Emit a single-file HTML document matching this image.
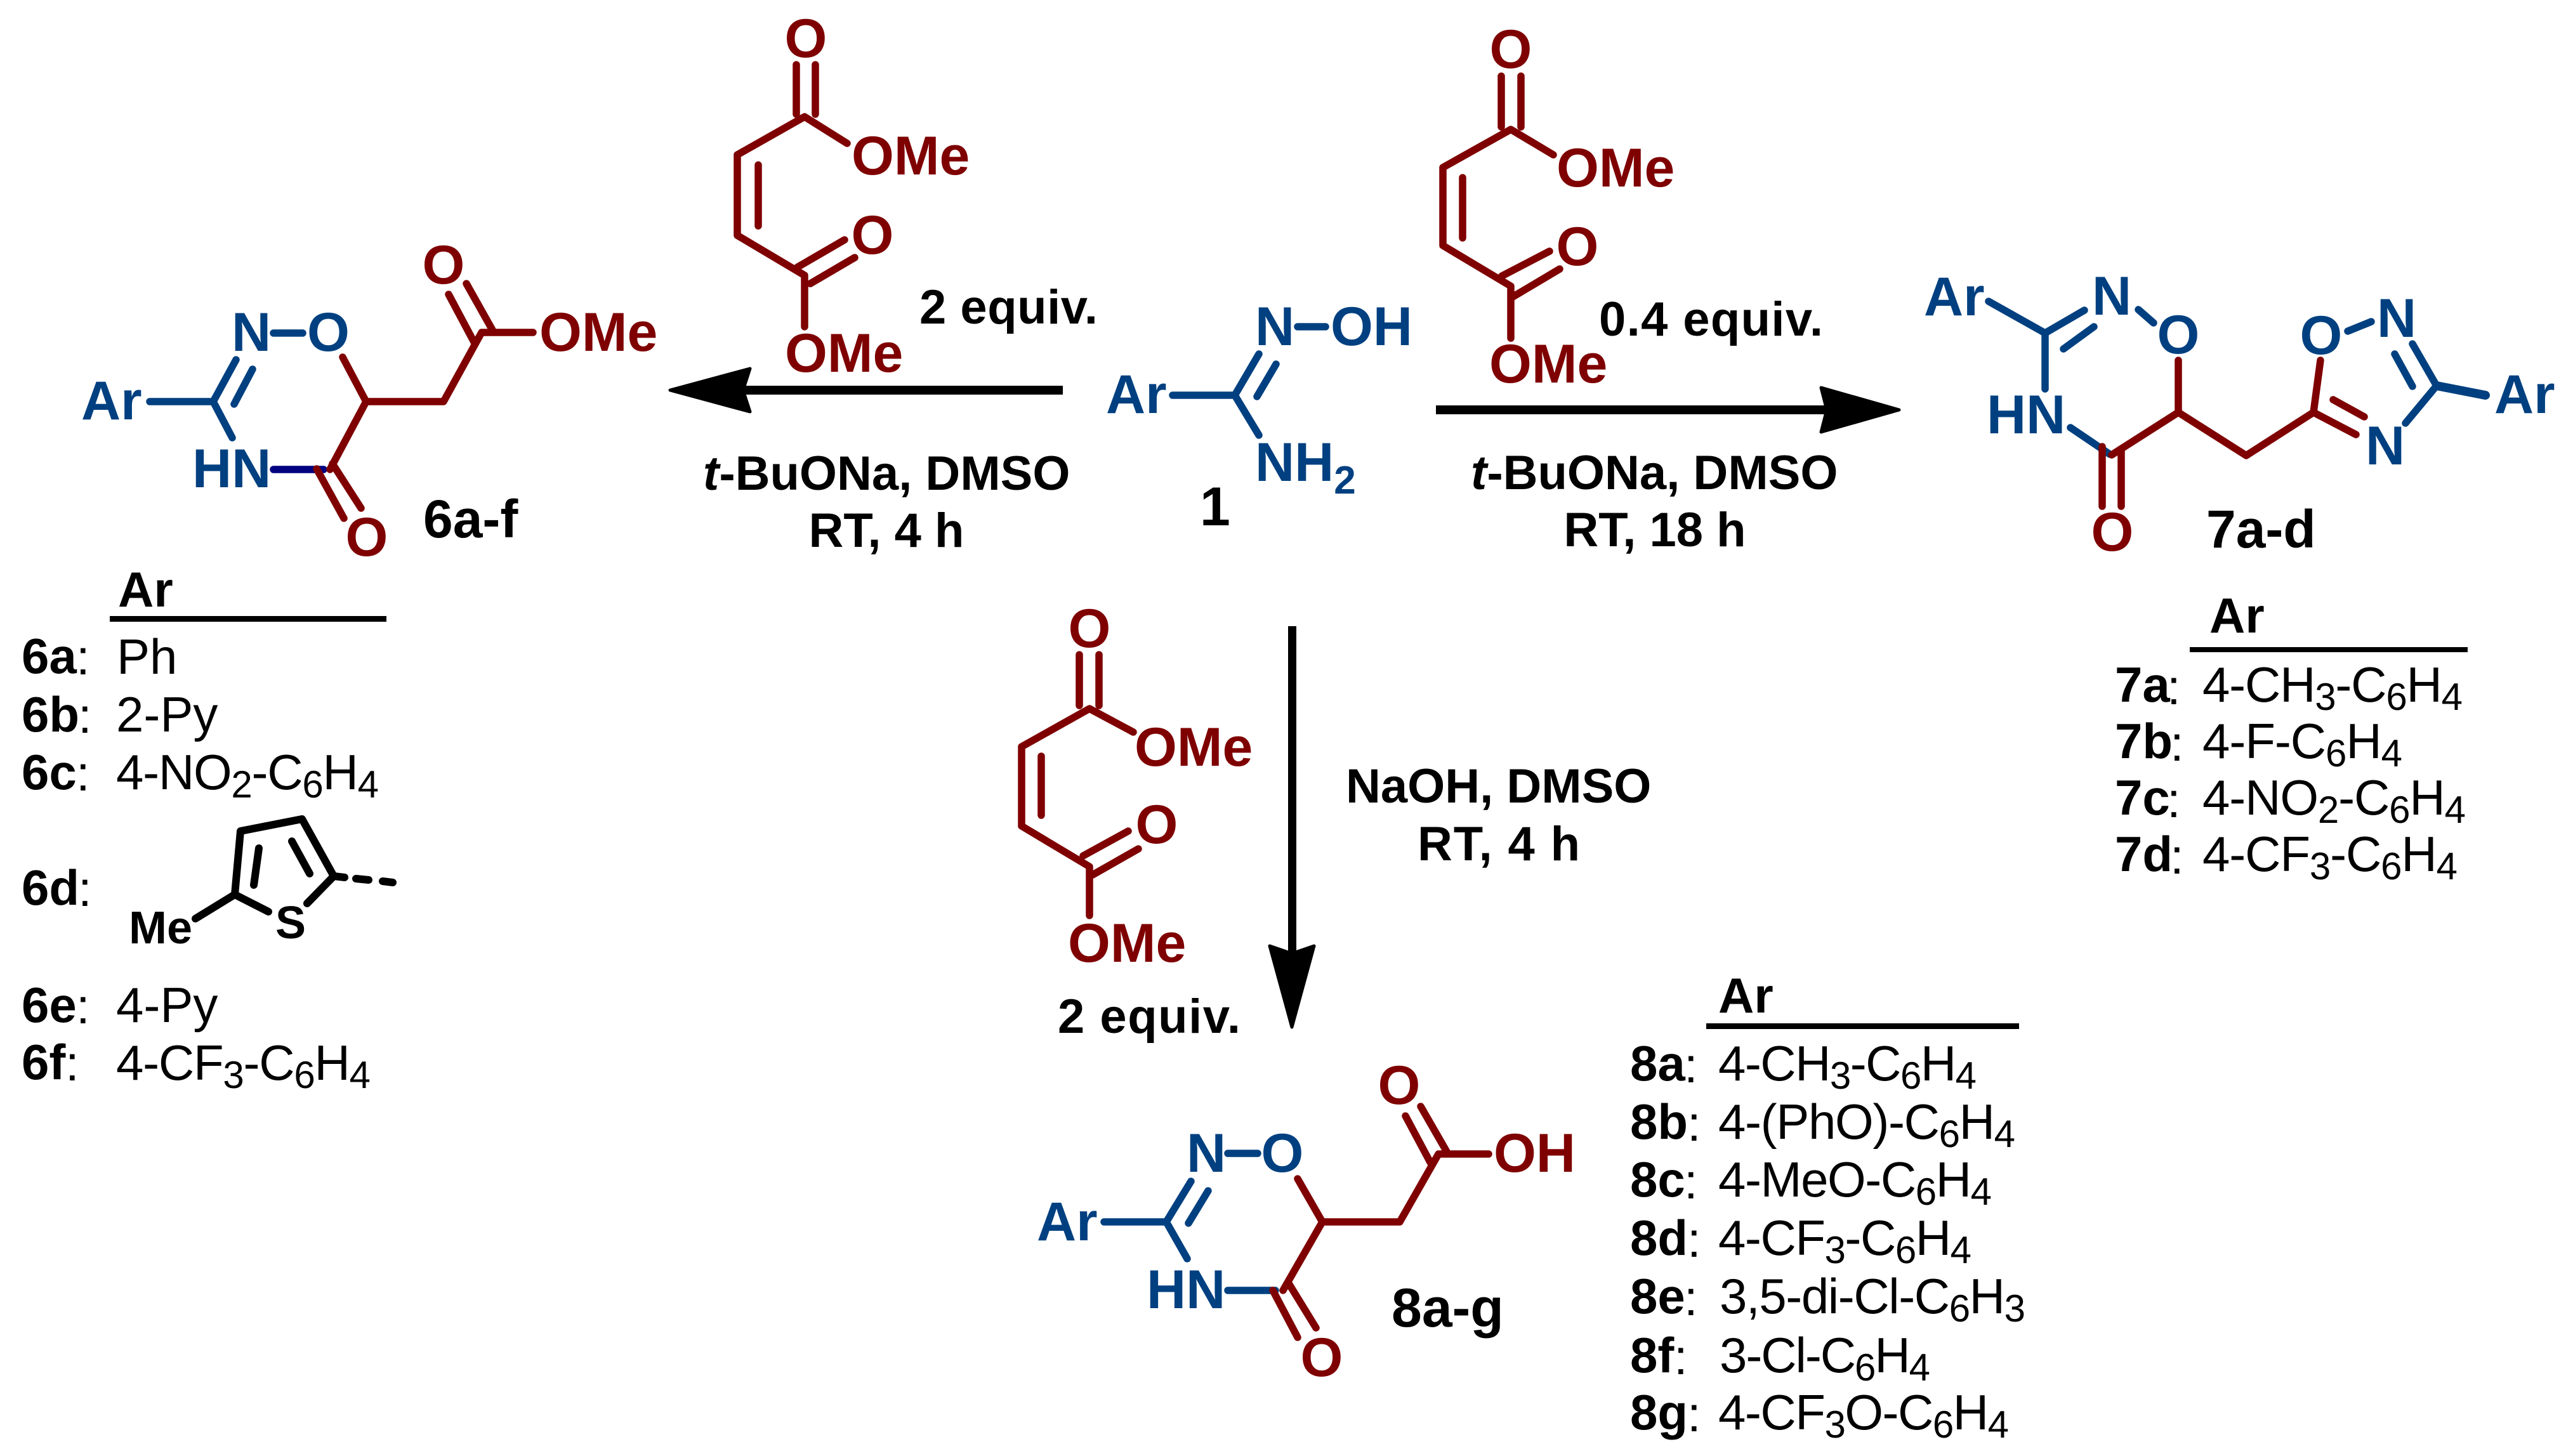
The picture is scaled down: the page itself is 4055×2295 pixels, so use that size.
<!DOCTYPE html>
<html><head><meta charset="utf-8"><style>
html,body{margin:0;padding:0;background:#fff}
svg{display:block}
text{font-family:"Liberation Sans",sans-serif}
.b{font-weight:700;font-size:86px}
.c{font-weight:700;font-size:76px;fill:#000}
.h{font-weight:700;font-size:78px;fill:#000}
.r{font-size:78px;fill:#000}
.m{fill:#7f0000}.u{fill:#004080}
.k{fill:#000}
.s{font-size:60px}
.mid{text-anchor:middle}
.lm{stroke:#7f0000;stroke-width:11.5;fill:none;stroke-linecap:round;stroke-linejoin:round}
.lu{stroke:#004080;stroke-width:11.5;fill:none;stroke-linecap:round;stroke-linejoin:round}
.lk{stroke:#000;stroke-width:12;fill:none;stroke-linecap:round;stroke-linejoin:round}
</style></head><body>
<svg xmlns="http://www.w3.org/2000/svg" width="4055" height="2295" viewBox="0 0 4055 2295">
<rect width="4055" height="2295" fill="#fff"/>

<!-- Maleate 1 -->
<path class="lm" d="M1255 102V180M1285 102V180M1335 226L1268 184L1162 244V371L1268 434V515M1195 260V356M1257 421L1331 378M1277 447L1347 406"/>
<text class="b m mid" x="1270" y="90">O</text>
<text class="b m" x="1342" y="275">OMe</text>
<text class="b m mid" x="1375" y="400">O</text>
<text class="b m" x="1237" y="586">OMe</text>
<text class="c" x="1449" y="510" textLength="281" lengthAdjust="spacing">2 equiv.</text>

<!-- Left arrow -->
<rect x="1170" y="608" width="505" height="14" fill="#000"/>
<polygon points="1056,615 1182,581 1171,615 1182,649" fill="#000" stroke="#000" stroke-width="5" stroke-linejoin="round"/>
<text class="c" x="1108" y="772"><tspan font-style="italic">t</tspan>-BuONa, DMSO</text>
<text class="c mid" x="1397" y="862">RT, 4 h</text>

<!-- Compound 6 -->
<path class="lu" d="M431 525H477M236 633H336L372 567M398 582L369 637M336 633L366 690"/>
<path d="M431 740H510" stroke="#000080" stroke-width="11.5" stroke-linecap="round" fill="none"/>
<path class="lm" d="M540 563L577 633H699L759 524H840M577 633L520 740M499 739L542 817M524 731L569 801M707 464L748 541M735 447L776 520"/>
<text class="b u" x="365" y="553">N</text>
<text class="b u" x="484" y="553">O</text>
<text class="b u" x="128" y="661">Ar</text>
<text class="b u" x="303" y="768">HN</text>
<text class="b m mid" x="578" y="876">O</text>
<text class="b m mid" x="699" y="447">O</text>
<text class="b m" x="850" y="553">OMe</text>
<text class="b k" x="667" y="847" style="font-size:84px">6a-f</text>

<!-- Table 6 -->
<text class="h" x="186" y="956">Ar</text>
<rect x="173" y="971" width="436" height="9" fill="#000"/>
<text class="h" x="34" y="1061">6a</text><text class="r" x="120" y="1063">:</text><text class="r" x="184" y="1062">Ph</text>
<text class="h" x="34" y="1153">6b</text><text class="r" x="123" y="1155">:</text><text class="r" x="183" y="1153">2-Py</text>
<text class="h" x="34" y="1244">6c</text><text class="r" x="120" y="1246">:</text>
<text class="r" x="183" y="1244" textLength="414" lengthAdjust="spacing">4-NO<tspan class="s" dy="13">2</tspan><tspan dy="-13">-C</tspan><tspan class="s" dy="13">6</tspan><tspan dy="-13">H</tspan><tspan class="s" dy="13">4</tspan></text>
<text class="h" x="34" y="1426">6d</text><text class="r" x="123" y="1428">:</text>
<path class="lk" d="M308 1448L370 1410L379 1310L476 1291L526 1381L484 1424M370 1410L423 1437M408 1337L400 1395M460 1326L488 1377"/>
<path class="lk" d="M526 1381L543 1383M561 1385L581 1387M603 1389L619 1391"/>
<text x="203" y="1487" style="font-weight:700;font-size:72px" class="k">Me</text>
<text x="434" y="1479" style="font-weight:700;font-size:72px" class="k">S</text>
<text class="h" x="34" y="1611">6e</text><text class="r" x="120" y="1613">:</text><text class="r" x="183" y="1611">4-Py</text>
<text class="h" x="34" y="1701">6f</text><text class="r" x="103" y="1703">:</text>
<text class="r" x="183" y="1702" textLength="401" lengthAdjust="spacing">4-CF<tspan class="s" dy="13">3</tspan><tspan dy="-13">-C</tspan><tspan class="s" dy="13">6</tspan><tspan dy="-13">H</tspan><tspan class="s" dy="13">4</tspan></text>

<!-- Compound 1 -->
<path class="lu" d="M1848 623H1946L1984 558M2011 574L1981 625M1946 623L1984 686M2045 515H2089"/>
<text class="b u" x="1743" y="651">Ar</text>
<text class="b u" x="1978" y="544">N</text>
<text class="b u" x="2097" y="544">OH</text>
<text class="b u" x="1978" y="758">NH<tspan style="font-size:62px" dy="20">2</tspan></text>
<text class="b k" x="1891" y="828">1</text>

<!-- Maleate 2 -->
<path class="lm" d="M2366 120V200M2397 120V200M2448 244L2381 204L2274 264V387L2381 451V533M2305 280V375M2367 435L2442 396M2384 468L2458 424"/>
<text class="b m mid" x="2381" y="107">O</text>
<text class="b m" x="2453" y="294">OMe</text>
<text class="b m mid" x="2486" y="418">O</text>
<text class="b m" x="2347" y="603">OMe</text>
<text class="c" x="2520" y="529" textLength="353" lengthAdjust="spacing">0.4 equiv.</text>

<!-- Right arrow -->
<rect x="2263" y="639" width="625" height="14" fill="#000"/>
<polygon points="2993,646 2870,611 2879,646 2870,681" fill="#000" stroke="#000" stroke-width="5" stroke-linejoin="round"/>
<text class="c" x="2318" y="771"><tspan font-style="italic">t</tspan>-BuONa, DMSO</text>
<text class="c mid" x="2608" y="861">RT, 18 h</text>

<!-- Compound 7 -->
<path class="lu" d="M3134 475L3223 525L3285 489M3252 550L3300 515M3370 488L3394 509M3223 525V613M3263 674L3325 716M3700 522L3737 507M3802 542L3840 608M3774 558L3802 609M3840 608L3791 667"/>
<path d="M3840 608L3917 623" stroke="#004080" stroke-width="14" stroke-linecap="round" fill="none"/>
<path class="lm" d="M3313 704V798M3343 710V798M3433 568V650L3328 717M3433 650L3540 718L3646 650L3657 568M3646 650L3713 685M3677 630L3726 657"/>
<text class="b u" x="3032" y="497">Ar</text>
<text class="b u" x="3297" y="496">N</text>
<text class="b u mid" x="3433" y="557">O</text>
<text class="b u" x="3131" y="683">HN</text>
<text class="b m mid" x="3329" y="868">O</text>
<text class="b u mid" x="3658" y="558">O</text>
<text class="b u" x="3746" y="531">N</text>
<text class="b u" x="3728" y="732">N</text>
<text class="b u" x="3931" y="651">Ar</text>
<text class="b k" x="3477" y="863" style="font-size:84px">7a-d</text>

<!-- Table 7 -->
<text class="h" x="3482" y="997">Ar</text>
<rect x="3451" y="1020" width="438" height="8" fill="#000"/>
<text class="h" x="3333" y="1106">7a</text><text class="r" x="3415" y="1110">:</text>
<text class="r" x="3471" y="1106" textLength="410" lengthAdjust="spacing">4-CH<tspan class="s" dy="13">3</tspan><tspan dy="-13">-C</tspan><tspan class="s" dy="13">6</tspan><tspan dy="-13">H</tspan><tspan class="s" dy="13">4</tspan></text>
<text class="h" x="3333" y="1195">7b</text><text class="r" x="3420" y="1199">:</text>
<text class="r" x="3471" y="1195" textLength="315" lengthAdjust="spacing">4-F-C<tspan class="s" dy="13">6</tspan><tspan dy="-13">H</tspan><tspan class="s" dy="13">4</tspan></text>
<text class="h" x="3333" y="1284">7c</text><text class="r" x="3415" y="1288">:</text>
<text class="r" x="3471" y="1284" textLength="415" lengthAdjust="spacing">4-NO<tspan class="s" dy="13">2</tspan><tspan dy="-13">-C</tspan><tspan class="s" dy="13">6</tspan><tspan dy="-13">H</tspan><tspan class="s" dy="13">4</tspan></text>
<text class="h" x="3333" y="1373">7d</text><text class="r" x="3420" y="1377">:</text>
<text class="r" x="3471" y="1373" textLength="402" lengthAdjust="spacing">4-CF<tspan class="s" dy="13">3</tspan><tspan dy="-13">-C</tspan><tspan class="s" dy="13">6</tspan><tspan dy="-13">H</tspan><tspan class="s" dy="13">4</tspan></text>

<!-- Maleate 3 -->
<path class="lm" d="M1701 1032V1112M1732 1032V1112M1786 1154L1717 1117L1610 1177V1302L1717 1366V1443M1641 1192V1285M1707 1349L1778 1310M1722 1379L1794 1338"/>
<text class="b m mid" x="1717" y="1020">O</text>
<text class="b m" x="1788" y="1207">OMe</text>
<text class="b m mid" x="1823" y="1329">O</text>
<text class="b m" x="1683" y="1516">OMe</text>
<text class="c" x="1667" y="1628" textLength="288" lengthAdjust="spacing">2 equiv.</text>

<!-- Down arrow -->
<rect x="2030" y="987" width="13" height="520" fill="#000"/>
<polygon points="2036,1619 2001,1491 2036,1503 2071,1491" fill="#000" stroke="#000" stroke-width="5" stroke-linejoin="round"/>
<text class="c" x="2121" y="1265">NaOH, DMSO</text>
<text class="c mid" x="2362" y="1356" textLength="256" lengthAdjust="spacing">RT, 4 h</text>

<!-- Compound 8 -->
<path class="lu" d="M1740 1926H1838L1877 1862M1873 1928L1904 1877M1838 1926L1871 1984M1935 1818H1982M1935 2034H2010"/>
<path class="lm" d="M2045 1858L2084 1926H2206L2267 1819H2346M2084 1926L2022 2034M2006 2034L2045 2108M2031 2023L2074 2093M2215 1759L2254 1832M2239 1744L2281 1817"/>
<text class="b u" x="1634" y="1955">Ar</text>
<text class="b u" x="1870" y="1847">N</text>
<text class="b u mid" x="2021" y="1847">O</text>
<text class="b u" x="1807" y="2062">HN</text>
<text class="b m mid" x="2083" y="2169">O</text>
<text class="b m mid" x="2205" y="1740">O</text>
<text class="b m" x="2354" y="1847">OH</text>
<text class="b k" x="2193" y="2091">8a-g</text>

<!-- Table 8 -->
<text class="h" x="2708" y="1596">Ar</text>
<rect x="2689" y="1613" width="493" height="9" fill="#000"/>
<text class="h" x="2569" y="1703">8a</text><text class="r" x="2654" y="1706">:</text>
<text class="r" x="2708" y="1703" textLength="407" lengthAdjust="spacing">4-CH<tspan class="s" dy="13">3</tspan><tspan dy="-13">-C</tspan><tspan class="s" dy="13">6</tspan><tspan dy="-13">H</tspan><tspan class="s" dy="13">4</tspan></text>
<text class="h" x="2569" y="1795">8b</text><text class="r" x="2659" y="1798">:</text>
<text class="r" x="2708" y="1795" textLength="468" lengthAdjust="spacing">4-(PhO)-C<tspan class="s" dy="13">6</tspan><tspan dy="-13">H</tspan><tspan class="s" dy="13">4</tspan></text>
<text class="h" x="2569" y="1886">8c</text><text class="r" x="2654" y="1889">:</text>
<text class="r" x="2708" y="1886" textLength="431" lengthAdjust="spacing">4-MeO-C<tspan class="s" dy="13">6</tspan><tspan dy="-13">H</tspan><tspan class="s" dy="13">4</tspan></text>
<text class="h" x="2569" y="1978">8d</text><text class="r" x="2659" y="1981">:</text>
<text class="r" x="2708" y="1978" textLength="399" lengthAdjust="spacing">4-CF<tspan class="s" dy="13">3</tspan><tspan dy="-13">-C</tspan><tspan class="s" dy="13">6</tspan><tspan dy="-13">H</tspan><tspan class="s" dy="13">4</tspan></text>
<text class="h" x="2569" y="2070">8e</text><text class="r" x="2654" y="2073">:</text>
<text class="r" x="2710" y="2070" textLength="482" lengthAdjust="spacing">3,5-di-Cl-C<tspan class="s" dy="13">6</tspan><tspan dy="-13">H</tspan><tspan class="s" dy="13">3</tspan></text>
<text class="h" x="2569" y="2163">8f</text><text class="r" x="2638" y="2166">:</text>
<text class="r" x="2710" y="2163" textLength="332" lengthAdjust="spacing">3-Cl-C<tspan class="s" dy="13">6</tspan><tspan dy="-13">H</tspan><tspan class="s" dy="13">4</tspan></text>
<text class="h" x="2569" y="2253">8g</text><text class="r" x="2659" y="2256">:</text>
<text class="r" x="2708" y="2253" textLength="458" lengthAdjust="spacing">4-CF<tspan class="s" dy="13">3</tspan><tspan dy="-13">O-C</tspan><tspan class="s" dy="13">6</tspan><tspan dy="-13">H</tspan><tspan class="s" dy="13">4</tspan></text>
</svg>
</body></html>
